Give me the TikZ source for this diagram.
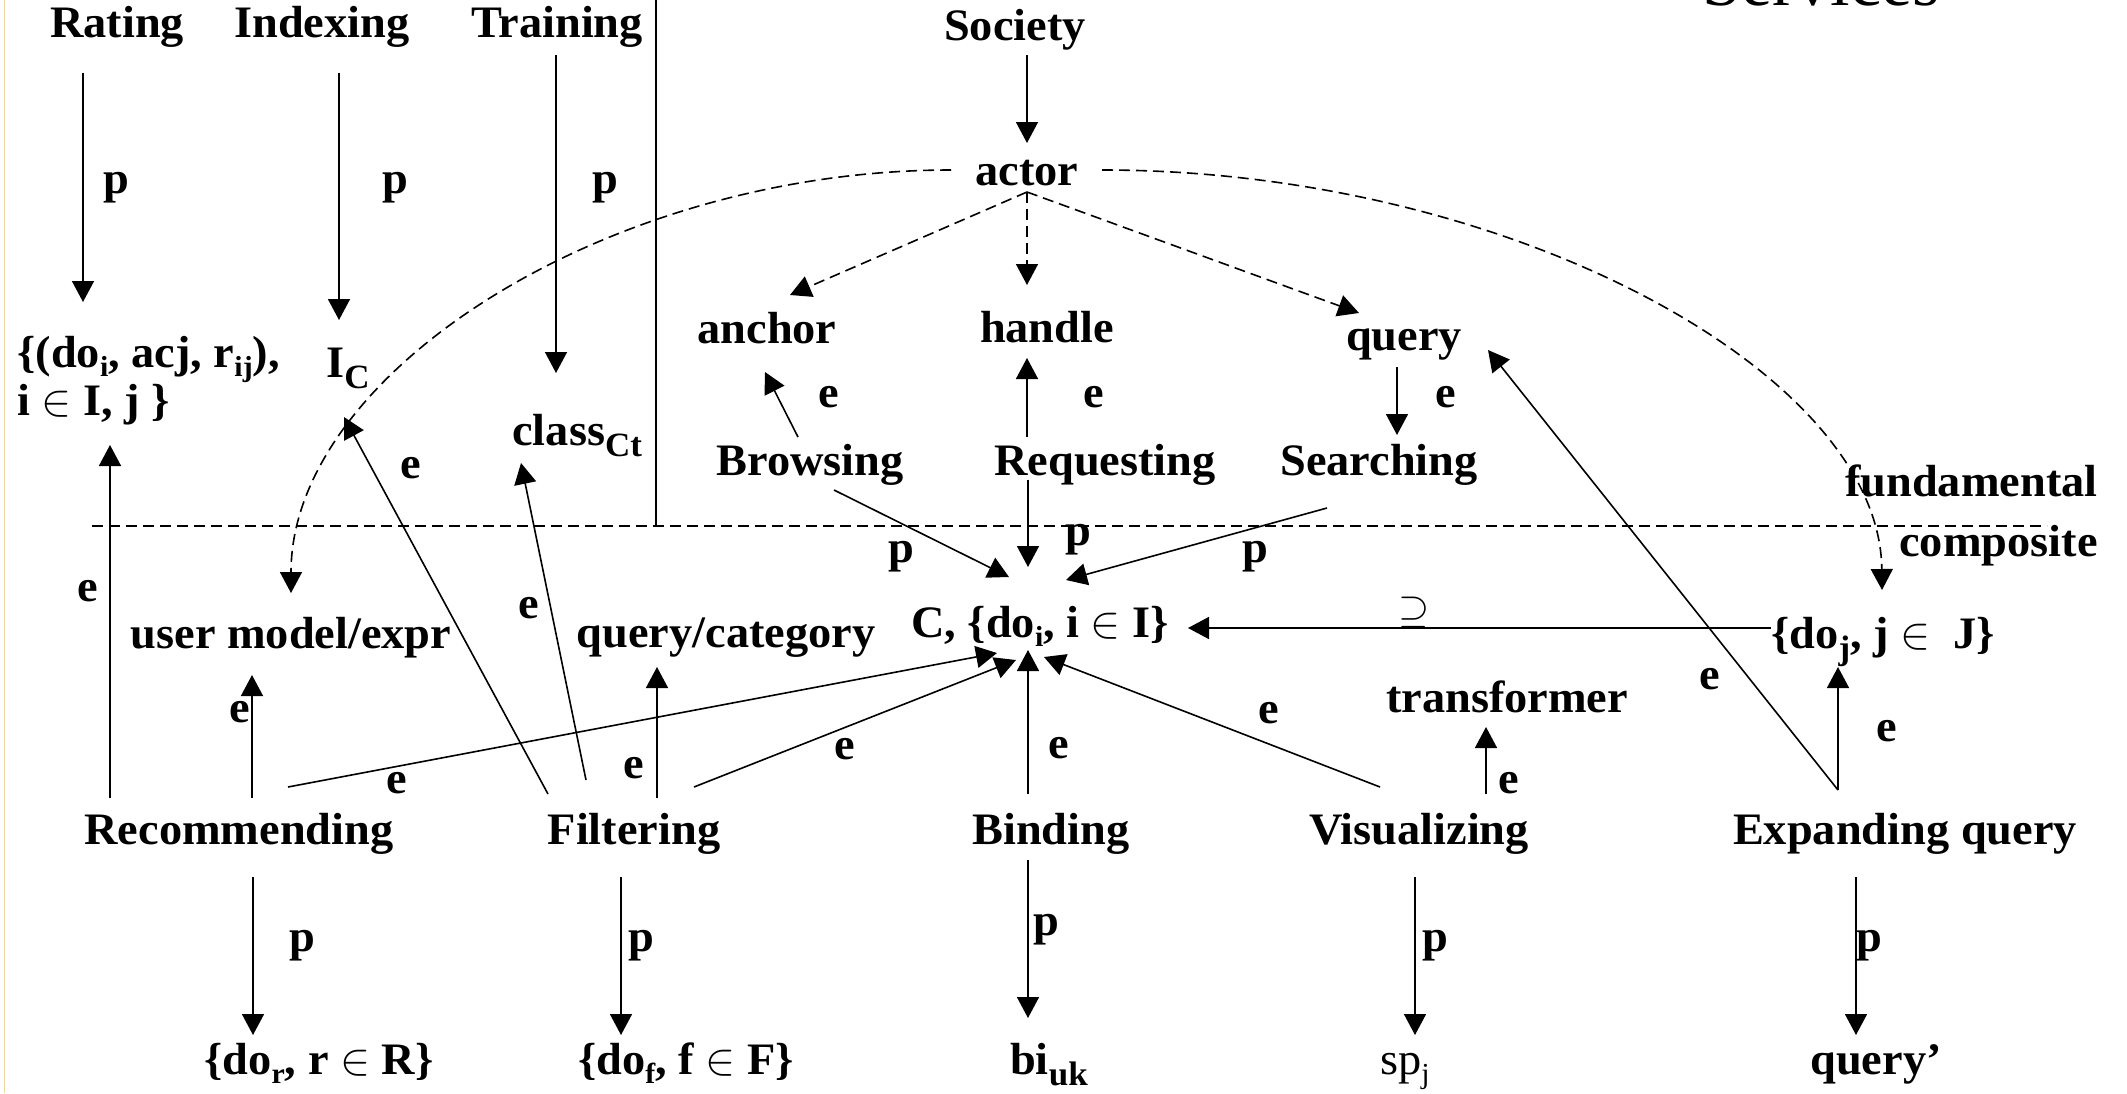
\RequirePackage{fix-cm}
\documentclass[tikz,border=0pt]{standalone}
\usepackage{fontspec}
\setmainfont{Liberation Serif}[FakeStretch=1.03]
\usetikzlibrary{arrows.meta,calc}
\newcommand\mainf{\fontsize{22.5}{27}\selectfont\bfseries}
\newcommand\lowa[1]{\raisebox{-4.5pt}{\fontsize{14.5}{14.5}\selectfont #1}}
\newcommand\lowb[1]{\raisebox{-5.5pt}{\fontsize{17}{17}\selectfont #1}}
\tikzset{
  txt/.style={inner sep=0pt, font=\mainf},
  lbl/.style={inner sep=0pt, font=\mainf},
  arr/.style={line width=0.8pt, -{Triangle[length=10.5pt,width=11pt]}},
  dsh/.style={arr, dash pattern=on 5.5pt off 3pt},
  sep/.style={line width=0.8pt, dash pattern=on 5.5pt off 3pt}
}
\begin{document}
\begin{tikzpicture}[x=0.5pt,y=-0.5pt]
\clip (0,0) rectangle (2127,1093);
\fill[white] (0,0) rectangle (2127,1093);
\draw[line width=0.5pt, color={rgb,255:red,240;green,215;blue,160}] (4,0) -- (4,1093);

% separators
\draw[line width=0.8pt] (656,0) -- (656,526);
\draw[sep] (92,526) -- (2047,526);

% nodes
\node[anchor=base, inner sep=0pt, font=\fontsize{34}{40}\selectfont] (services) at (1821,5) {Services};
\node[txt, anchor=base] (rating) at (117,37) {Rating};
\node[txt, anchor=base] (indexing) at (322,37) {Indexing};
\node[txt, anchor=base] (training) at (557,37) {Training};
\node[txt, anchor=base] (society) at (1015,40) {Society};
\node[txt, anchor=base] (actor) at (1027,185) {actor};
\node[txt, anchor=base west] (rres) at (17,367) {\{(do\lowa{i}, acj, r\lowa{ij}),};
\node[txt, anchor=base west] (rres2) at (17,415) {i $\in$ I, j \}};
\node[txt, anchor=base west] (ic) at (326,377) {I\lowb{C}};
\node[txt, anchor=base west] (class) at (512,445) {class\lowb{Ct}};
\node[txt, anchor=base] (anchor) at (767,343) {anchor};
\node[txt, anchor=base] (handle) at (1047,342) {handle};
\node[txt, anchor=base] (query) at (1404,350) {query};
\node[txt, anchor=base] (browsing) at (810,475) {Browsing};
\node[txt, anchor=base] (requesting) at (1105,475) {Requesting};
\node[txt, anchor=base] (searching) at (1379,475) {Searching};
\node[txt, anchor=base east] (fund) at (2098,496) {fundamental};
\node[txt, anchor=base east] (comp) at (2098,556) {composite};
\node[txt, anchor=base] (usermodel) at (291,648) {user model/expr};
\node[txt, anchor=base] (querycat) at (726,647) {query/category};
\node[txt, anchor=base] (C) at (1040,637) {C, \{do\lowa{i}, i $\in$ I\}};
\node[txt, anchor=base] (doj) at (1883,648) {\{do\lowb{j}, j $\in$\hspace{0.5em}J\}};
\node[txt, anchor=base] (transformer) at (1507,712) {transformer};
\node[txt, anchor=base] (rec) at (239,844) {Recommending};
\node[txt, anchor=base] (filt) at (634,844) {Filtering};
\node[txt, anchor=base] (bind) at (1051,844) {Binding};
\node[txt, anchor=base] (vis) at (1419,844) {Visualizing};
\node[txt, anchor=base] (exp) at (1905,844) {Expanding query};
\node[txt, anchor=base] (dor) at (319,1074) {\{do\lowa{r}, r $\in$ R\}};
\node[txt, anchor=base] (dof) at (686,1074) {\{do\lowa{f}, f $\in$ F\}};
\node[txt, anchor=base] (biuk) at (1049,1074) {bi\lowb{uk}};
\node[txt, anchor=base] (spj) at (1405,1074) {\mdseries sp\lowa{j}};
\node[txt, anchor=base] (queryp) at (1876,1074) {query’};

% top arrows
\draw[arr] ($(rating.base)+(-34,36)$) -- ($(rres.base west)+(66,-65)$);
\draw[arr] ($(indexing.base)+(17,36)$) -- ($(ic.base west)+(13,-57)$);
\draw[arr] ($(training.base)+(-1,18)$) -- ($(class.base west)+(44,-72)$);
\draw[arr] ($(society.base)+(12,15)$) -- ($(actor.base)+(0,-42)$);

% actor dashed
\draw[dsh] ($(actor.base)+(0,7)$) -- ($(anchor.base)+(23,-48)$);
\draw[dsh] ($(actor.base)+(0,7)$) -- ($(handle.base)+(-20,-57)$);
\draw[dsh] ($(actor.base)+(0,7)$) -- ($(query.base)+(-45,-37)$);
\draw[dsh] ($(actor.base)+(-76,-15)$) .. controls (608,170) and (291,373) .. ($(usermodel.base)+(0,-55)$);
\draw[dsh] ($(actor.base)+(75,-15)$) .. controls (1508,170) and (1880,372) .. ($(doj.base)+(-1,-58)$);

% fundamental services
\draw[arr] ($(browsing.base)+(-12,-38)$) -- ($(anchor.base)+(-2,29)$);
\draw[arr] ($(requesting.base)+(-78,-38)$) -- ($(handle.base)+(-20,16)$);
\draw[arr] ($(query.base)+(-7,17)$) -- ($(searching.base)+(18,-40)$);
\draw[arr] ($(browsing.base)+(24,15)$) -- ($(C.base)+(-31,-60)$);
\draw[arr] ($(requesting.base)+(-77,5)$) -- ($(C.base)+(-12,-70)$);
\draw[arr] ($(searching.base)+(-52,33)$) -- ($(C.base)+(26,-57)$);

% composite services
\draw[arr] ($(rec.base)+(-129,-46)$) -- ($(rres2.base west)+(93,30)$);
\draw[arr] ($(filt.base)+(-86,-50)$) -- ($(ic.base west)+(18,40)$);
\draw[arr] ($(filt.base)+(-48,-64)$) -- ($(class.base west)+(9,18)$);
\draw[arr] ($(rec.base)+(13,-46)$) -- ($(usermodel.base)+(-39,27)$);
\draw[arr] ($(rec.base)+(49,-57)$) -- ($(C.base)+(-43,16)$);
\draw[arr] ($(filt.base)+(23,-46)$) -- ($(querycat.base)+(-69,20)$);
\draw[arr] ($(filt.base)+(60,-57)$) -- ($(C.base)+(-24,23)$);
\draw[arr] ($(bind.base)+(-23,-50)$) -- ($(C.base)+(-12,13)$);
\draw[arr] ($(vis.base)+(-39,-57)$) -- ($(C.base)+(4,20)$);
\draw[arr] ($(vis.base)+(67,-50)$) -- ($(transformer.base)+(-21,15)$);
\draw[arr] ($(exp.base)+(-67,-54)$) -- ($(doj.base)+(-45,19)$);
\draw[arr] ($(exp.base)+(-67,-54)$) -- ($(query.base)+(84,0)$);
\draw[arr] ($(doj.base)+(-112,-20)$) -- ($(C.base)+(148,-9)$);

% bottom arrows
\draw[arr] ($(rec.base)+(14,33)$) -- ($(dor.base)+(-66,-39)$);
\draw[arr] ($(filt.base)+(-13,33)$) -- ($(dof.base)+(-65,-39)$);
\draw[arr] ($(bind.base)+(-23,16)$) -- ($(biuk.base)+(-21,-56)$);
\draw[arr] ($(vis.base)+(-4,33)$) -- ($(spj.base)+(10,-39)$);
\draw[arr] ($(exp.base)+(-49,33)$) -- ($(queryp.base)+(-20,-39)$);

% labels
\node[lbl] (lp1) at (116,188) {p};
\node[lbl] (lp2) at (395,188) {p};
\node[lbl] (lp3) at (605,188) {p};
\node[lbl] (le1) at (88,591) {e};
\node[lbl] (le2) at (411,468) {e};
\node[lbl] (le3) at (529,608) {e};
\node[lbl] (le4) at (829,397) {e};
\node[lbl] (le5) at (1094,397) {e};
\node[lbl] (le6) at (1446,397) {e};
\node[lbl] (lp4) at (901,557) {p};
\node[lbl] (lp5) at (1078,540) {p};
\node[lbl] (lp6) at (1255,557) {p};
\node[inner sep=0pt, font=\fontsize{20}{24}\selectfont] (lsup) at (1414,612) {$\supseteq$};
\node[lbl] (le7) at (240,712) {e};
\node[lbl] (le8) at (397,783) {e};
\node[lbl] (le9) at (634,768) {e};
\node[lbl] (le10) at (845,749) {e};
\node[lbl] (le11) at (1059,748) {e};
\node[lbl] (le12) at (1269,713) {e};
\node[lbl] (le13) at (1509,783) {e};
\node[lbl] (le14) at (1710,679) {e};
\node[lbl] (le15) at (1887,731) {e};
\node[lbl] (lp7) at (302,946) {p};
\node[lbl] (lp8) at (641,946) {p};
\node[lbl] (lp9) at (1046,930) {p};
\node[lbl] (lp10) at (1435,946) {p};
\node[lbl] (lp11) at (1869,946) {p};
\end{tikzpicture}
\end{document}
